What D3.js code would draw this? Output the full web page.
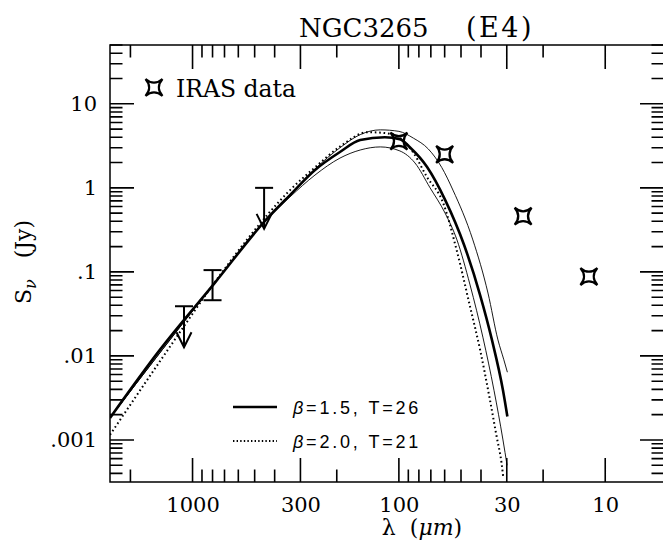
<!DOCTYPE html>
<html>
<head>
<meta charset="utf-8">
<script src="https://cdn.jsdelivr.net/npm/d3@7"></script>
<style>
  body { margin: 0; background: #fff; }
  svg { display: block; }
</style>
</head>
<body>
<div id="chart"></div>
<script>
// IRAS fluxes [wavelength um, S_nu Jy]
const irasData = [[100, 3.6], [60, 2.5], [25, 0.46], [12, 0.088]];
// submm upper limits [wavelength, limit]
const submmLimits = [[1100, 0.039], [450, 1.0]];
// submm detection [wavelength, low, high]
const submmBars = [[800, 0.046, 0.105]];

// fitted curves [wavelength, S_nu]
const fitThick = [
  [2512, 0.00183], [1440, 0.0118], [780, 0.074], [441, 0.415], [337, 0.82],
  [255, 1.63], [193, 2.67], [154, 3.7], [117, 4.0], [99, 3.8], [88, 3.0],
  [73, 1.77], [59.7, 0.72], [48.3, 0.209], [40.4, 0.053], [35.4, 0.0155],
  [31.3, 0.0039], [29.8, 0.0019]
];
const fitDotted = [
  [2512, 0.00115], [1440, 0.0086], [682, 0.118], [546, 0.24], [337, 0.94],
  [255, 1.75], [193, 3.1], [141, 4.6], [110, 4.4], [85.5, 2.67], [73.3, 1.36],
  [61, 0.66], [52.5, 0.182], [45.2, 0.0386], [40.4, 0.0118], [36.2, 0.0030],
  [33.6, 0.0011], [31.8, 0.00053], [31.2, 0.00036]
];
const fitUpper = [
  [2512, 0.00183], [780, 0.074], [441, 0.415], [337, 0.83], [255, 1.68],
  [193, 3.0], [154, 4.3], [123, 4.9], [100, 4.7], [85, 3.9], [72, 2.9],
  [62, 1.75], [54.7, 0.94], [43.8, 0.24], [37.0, 0.056], [33.1, 0.0155],
  [31.0, 0.0090], [29.8, 0.0064]
];
const fitLower = [
  [2512, 0.00183], [780, 0.074], [441, 0.41], [337, 0.78], [255, 1.42],
  [193, 2.26], [154, 2.82], [123, 3.07], [98.9, 2.75], [83.6, 1.98],
  [70.6, 1.0], [59.7, 0.50], [52.3, 0.24], [45.2, 0.070], [39.1, 0.0164],
  [34.6, 0.0039], [31.3, 0.0010], [29.9, 0.0005]
];

const xMajor = [1000, 300, 100, 30, 10];
const xMinor = [2000, 900, 800, 700, 600, 500, 400, 200, 90, 80, 70, 60, 50, 40, 20];
const yMajor = [10, 1, 0.1, 0.01, 0.001];
const yLabels = ["10", "1", ".1", ".01", ".001"];
const legendItems = ["=1.5, T=26", "=2.0, T=21"];

const W = 663, H = 540;
const plot = { left: 110, right: 664, top: 45, bottom: 482 };
const serif = "DejaVu Serif";
const majorLen = 24, minorLen = 12.5;

const svg = d3.select("#chart").append("svg")
  .attr("width", W).attr("height", H);

const x = d3.scaleLog().domain([2512, 5.19]).range([plot.left, plot.right]);
const y = d3.scaleLog().domain([50.1, 0.000316]).range([plot.top, plot.bottom]);

// minor y ticks 2..9 per decade
const yMinor = [];
for (let e = -4; e <= 1; e++) {
  for (let m = 2; m <= 9; m++) {
    const v = m * Math.pow(10, e);
    if (v > 0.000316 && v < 50.1) yMinor.push(v);
  }
}

// frame and inward tick marks
const xTicks = xMajor.map(v => [v, majorLen]).concat(xMinor.map(v => [v, minorLen]));
const yTicks = yMajor.map(v => [v, majorLen]).concat(yMinor.map(v => [v, minorLen]));
const tickPath = [];
xTicks.forEach(t => {
  const px = x(t[0]);
  tickPath.push(`M${px},${plot.bottom}V${plot.bottom - t[1]}`);
  tickPath.push(`M${px},${plot.top}V${plot.top + t[1]}`);
});
yTicks.forEach(t => {
  const py = y(t[0]);
  tickPath.push(`M${plot.left},${py}H${plot.left + t[1]}`);
  tickPath.push(`M${plot.right},${py}H${plot.right - t[1]}`);
});
svg.append("path")
  .attr("d", tickPath.join(""))
  .attr("fill", "none")
  .attr("stroke", "black")
  .attr("stroke-width", 1.6);

svg.append("path")
  .attr("d", `M${plot.left},${plot.top}H${plot.right}V${plot.bottom}H${plot.left}Z`)
  .attr("fill", "none").attr("stroke", "black").attr("stroke-width", 1.5);

// tick labels through d3 axes
function styleAxis(g) {
  g.select(".domain").remove();
  g.selectAll("line").remove();
  g.attr("font-family", serif).attr("font-size", 21);
  g.selectAll("text").attr("fill", "#000");
}
svg.append("g").attr("transform", `translate(0,${plot.bottom})`)
  .call(d3.axisBottom(x).tickValues(xMajor).tickSize(0).tickPadding(15)
    .tickFormat(d3.format("d")))
  .call(styleAxis);
svg.append("g").attr("transform", `translate(${plot.left},0)`)
  .call(d3.axisLeft(y).tickValues(yMajor).tickSize(0).tickPadding(13)
    .tickFormat((d, i) => yLabels[i]))
  .call(styleAxis);

svg.append("clipPath").attr("id", "clip")
  .append("rect")
  .attr("x", plot.left).attr("y", plot.top)
  .attr("width", plot.right - plot.left).attr("height", plot.bottom - plot.top);

const line = d3.line()
  .x(d => x(d[0]))
  .y(d => y(d[1]))
  .curve(d3.curveMonotoneX);

const curves = svg.append("g").attr("clip-path", "url(#clip)").attr("fill", "none");
curves.append("path").attr("d", line(fitUpper))
  .attr("stroke", "#000").attr("stroke-width", 0.9);
curves.append("path").attr("d", line(fitLower))
  .attr("stroke", "#000").attr("stroke-width", 0.9);
curves.append("path").attr("d", line(fitDotted))
  .attr("stroke", "#000").attr("stroke-width", 2)
  .attr("stroke-dasharray", "1.6,2.8");
curves.append("path").attr("d", line(fitThick))
  .attr("stroke", "#000").attr("stroke-width", 2.6);

// four-pointed star, points on the diagonals
function starPath(cx, cy) {
  const r = 8.5, c = 1.2;
  return `M${cx - r},${cy - r}Q${cx},${cy - c} ${cx + r},${cy - r}` +
    `Q${cx + c},${cy} ${cx + r},${cy + r}Q${cx},${cy + c} ${cx - r},${cy + r}` +
    `Q${cx - c},${cy} ${cx - r},${cy - r}Z`;
}

svg.append("g").selectAll("path").data(irasData).join("path")
  .attr("d", d => starPath(x(d[0]), y(d[1])))
  .attr("fill", "none").attr("stroke", "#000").attr("stroke-width", 2.2);

// error bar
const bars = svg.append("g").attr("stroke", "#000").attr("stroke-width", 2).attr("fill", "none");
submmBars.forEach(d => {
  const cx = x(d[0]);
  bars.append("line").attr("x1", cx).attr("x2", cx).attr("y1", y(d[2])).attr("y2", y(d[1]));
  bars.append("line").attr("x1", cx - 9).attr("x2", cx + 9).attr("y1", y(d[2])).attr("y2", y(d[2]));
  bars.append("line").attr("x1", cx - 9).attr("x2", cx + 9).attr("y1", y(d[1])).attr("y2", y(d[1]));
});
// upper limits
submmLimits.forEach(d => {
  const cx = x(d[0]), cy = y(d[1]), tip = cy + 41;
  bars.append("line").attr("x1", cx - 9).attr("x2", cx + 9).attr("y1", cy).attr("y2", cy);
  bars.append("line").attr("x1", cx).attr("x2", cx).attr("y1", cy).attr("y2", tip);
  bars.append("path").attr("d", `M${cx - 7.5},${tip - 15}L${cx},${tip}L${cx + 7.5},${tip - 15}`);
});

// title
const title = svg.append("text").attr("font-family", serif).attr("font-size", 26)
  .attr("y", 37);
title.append("tspan").attr("x", 299).text("NGC3265");
title.append("tspan").attr("x", 466).attr("font-size", 27).attr("letter-spacing", 2.5).text("(E4)");

// IRAS legend
svg.append("path").attr("d", starPath(154, 87.5))
  .attr("fill", "none").attr("stroke", "#000").attr("stroke-width", 2.2);
svg.append("text").attr("x", 176).attr("y", 97)
  .attr("font-family", serif).attr("font-size", 23.5).text("IRAS data");

// model legend
const legY = [407, 441];
legendItems.forEach((t, i) => {
  const ln = svg.append("line").attr("x1", 233).attr("x2", 277)
    .attr("y1", legY[i]).attr("y2", legY[i]).attr("stroke", "#000");
  if (i === 0) ln.attr("stroke-width", 2.4);
  else ln.attr("stroke-width", 1.8).attr("stroke-dasharray", "1.4,2.2");
  const tx = svg.append("text").attr("x", 293).attr("y", legY[i] + 6.5)
    .attr("font-family", "Liberation Sans").attr("font-size", 18)
    .attr("letter-spacing", 2.8);
  tx.append("tspan").attr("font-style", "italic").text("\u03b2");
  tx.append("tspan").text(t);
});

// axis titles
const xt = svg.append("text").attr("x", 422).attr("y", 535)
  .attr("text-anchor", "middle").attr("font-family", serif).attr("font-size", 22);
xt.append("tspan").text("\u03bb\u00a0\u00a0(");
xt.append("tspan").attr("font-style", "italic").text("\u03bcm");
xt.append("tspan").text(")");

const yt = svg.append("text").attr("transform", "translate(31,262) rotate(-90)")
  .attr("text-anchor", "middle").attr("font-family", serif).attr("font-size", 22);
yt.append("tspan").text("S");
yt.append("tspan").attr("font-style", "italic").attr("font-size", 16).attr("dy", 5).text("\u03bd");
yt.append("tspan").attr("dy", -5).text("\u00a0\u00a0\u00a0(Jy)");
</script>
</body>
</html>
